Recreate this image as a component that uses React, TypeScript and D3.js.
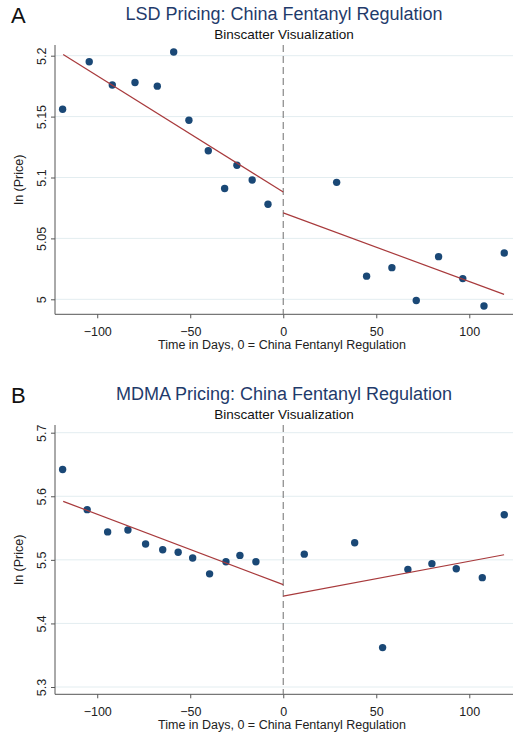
import React, { useEffect, useRef } from 'react';
import * as d3 from 'd3';

// LSD panel (A)
const lsdDays = [-118.6, -104.3, -91.9, -79.7, -67.7, -58.9, -50.7, -40.3, -31.5, -24.9, -16.7, -8.2,
  28.7, 44.8, 58.4, 71.5, 83.5, 96.5, 107.9, 118.8];
const lsdPrice = [5.156, 5.195, 5.176, 5.178, 5.175, 5.203, 5.147, 5.122, 5.091, 5.110, 5.098, 5.078,
  5.096, 5.019, 5.026, 4.999, 5.035, 5.017, 4.9945, 5.038];
const lsdFitPre: [number, number][] = [[-118.3, 5.201], [0, 5.088]];
const lsdFitPost: [number, number][] = [[0, 5.071], [118.7, 5.004]];
const lsdTicks = [5, 5.05, 5.1, 5.15, 5.2];

// MDMA panel (B)
const mdmaDays = [-118.6, -105.4, -94.4, -83.5, -74.0, -64.8, -56.5, -48.7, -39.6, -30.8, -23.3, -14.7,
  11.3, 38.4, 53.4, 67.0, 79.9, 93.0, 107.0, 118.8];
const mdmaPrice = [5.642, 5.579, 5.544, 5.547, 5.525, 5.516, 5.512, 5.503, 5.478, 5.497, 5.507, 5.497,
  5.509, 5.527, 5.362, 5.485, 5.494, 5.486, 5.472, 5.571];
const mdmaFitPre: [number, number][] = [[-118.3, 5.592], [0, 5.461]];
const mdmaFitPost: [number, number][] = [[0, 5.443], [118.7, 5.508]];
const mdmaTicks = [5.3, 5.4, 5.5, 5.6, 5.7];

const dayTicks = [-100, -50, 0, 50, 100];

const FONT = '"Liberation Sans", Arial, sans-serif';
const DOT = '#1a4876';
const FIT = '#a83a3c';
const TITLE = '#1f3b6b';

type PanelSpec = {
  letter: string;
  title: string;
  top: number;       // plot top (px)
  bottom: number;    // plot bottom (px)
  yDomain: [number, number];
  yRange: [number, number];
  ticks: number[];
  days: number[];
  price: number[];
  pre: [number, number][];
  post: [number, number][];
};

const panels: PanelSpec[] = [
  {
    letter: 'A', title: 'LSD Pricing: China Fentanyl Regulation',
    top: 45, bottom: 314.3, yDomain: [5, 5.2], yRange: [299.3, 55.7], ticks: lsdTicks,
    days: lsdDays, price: lsdPrice, pre: lsdFitPre, post: lsdFitPost,
  },
  {
    letter: 'B', title: 'MDMA Pricing: China Fentanyl Regulation',
    top: 425, bottom: 694.3, yDomain: [5.3, 5.7], yRange: [687, 432.7], ticks: mdmaTicks,
    days: mdmaDays, price: mdmaPrice, pre: mdmaFitPre, post: mdmaFitPost,
  },
];

export default function App() {
  const svgRef = useRef<SVGSVGElement>(null);
  const width = 513;
  const height = 734;

  useEffect(() => {
    const svg = d3.select(svgRef.current);
    svg.selectAll('*').remove();

    const left = 55;
    const x = d3.scaleLinear().domain([-122.7, 123.5]).range([left, width]);

    panels.forEach(p => {
      const y = d3.scaleLinear().domain(p.yDomain).range(p.yRange);
      const g = svg.append('g');

      // panel letter + titles
      g.append('text')
        .attr('x', 11).attr('y', p.top - 22)
        .style('font-family', FONT).style('font-size', '22px').attr('fill', '#111')
        .text(p.letter);
      g.append('text')
        .attr('x', 284).attr('y', p.top - 25)
        .attr('text-anchor', 'middle')
        .style('font-family', FONT).style('font-size', '18px').attr('fill', TITLE)
        .text(p.title);
      g.append('text')
        .attr('x', 284).attr('y', p.top - 6)
        .attr('text-anchor', 'middle')
        .style('font-family', FONT).style('font-size', '13.5px').attr('fill', '#111')
        .text('Binscatter Visualization');

      // grid lines
      g.append('g')
        .selectAll('line')
        .data(p.ticks)
        .join('line')
        .attr('x1', left).attr('x2', width)
        .attr('y1', d => y(d)).attr('y2', d => y(d))
        .attr('stroke', '#e3edf0').attr('stroke-width', 1);

      // y axis
      const yAxis = g.append('g')
        .attr('transform', `translate(${left},0)`)
        .call(d3.axisLeft(y).tickValues(p.ticks).tickSize(4).tickSizeOuter(0)
          .tickFormat(d => String(+(+d).toFixed(2))));
      yAxis.select('.domain').remove();
      yAxis.selectAll('line').attr('stroke', '#555');
      yAxis.selectAll('text')
        .attr('x', 0).attr('y', -9).attr('dy', 0)
        .attr('transform', 'rotate(-90)')
        .attr('text-anchor', 'middle')
        .attr('fill', '#222')
        .style('font-family', FONT).style('font-size', '12.5px');

      // x axis
      const xAxis = g.append('g')
        .attr('transform', `translate(0,${p.bottom})`)
        .call(d3.axisBottom(x).tickValues(dayTicks).tickSize(4).tickSizeOuter(0));
      xAxis.select('.domain').remove();
      xAxis.selectAll('line').attr('stroke', '#555');
      xAxis.selectAll('text')
        .attr('y', 21.5).attr('dy', 0)
        .attr('fill', '#222')
        .style('font-family', FONT).style('font-size', '12.5px');

      // axis lines
      g.append('line')
        .attr('x1', left).attr('x2', left).attr('y1', p.top).attr('y2', p.bottom)
        .attr('stroke', '#555').attr('stroke-width', 1);
      g.append('line')
        .attr('x1', left).attr('x2', width).attr('y1', p.bottom).attr('y2', p.bottom)
        .attr('stroke', '#555').attr('stroke-width', 1);

      // axis titles
      g.append('text')
        .attr('x', left + (width - left) / 2 - 2).attr('y', p.bottom + 35)
        .attr('text-anchor', 'middle')
        .style('font-family', FONT).style('font-size', '12.5px').attr('fill', '#222')
        .text('Time in Days, 0 = China Fentanyl Regulation');
      g.append('text')
        .attr('transform', `translate(23,${(p.top + p.bottom) / 2}) rotate(-90)`)
        .attr('text-anchor', 'middle')
        .style('font-family', FONT).style('font-size', '12.5px').attr('fill', '#222')
        .text('ln (Price)');

      // dashed line at day 0
      g.append('line')
        .attr('x1', x(0)).attr('x2', x(0))
        .attr('y1', p.top).attr('y2', p.bottom)
        .attr('stroke', '#888').attr('stroke-width', 1.2)
        .attr('stroke-dasharray', '7,4');

      // points
      g.append('g')
        .selectAll('circle')
        .data(p.days.map((d, i) => [d, p.price[i]] as [number, number]))
        .join('circle')
        .attr('cx', d => x(d[0]))
        .attr('cy', d => y(d[1]))
        .attr('r', 3.7)
        .attr('fill', DOT);

      // fit lines
      const line = d3.line<[number, number]>().x(d => x(d[0])).y(d => y(d[1]));
      [p.pre, p.post].forEach(seg => {
        g.append('path')
          .attr('d', line(seg))
          .attr('fill', 'none')
          .attr('stroke', FIT)
          .attr('stroke-width', 1.2);
      });
    });
  }, []);

  return (
    <svg
      ref={svgRef}
      width={width}
      height={height}
      style={{ position: 'absolute', top: 0, left: 0, background: '#fff' }}
    />
  );
}
